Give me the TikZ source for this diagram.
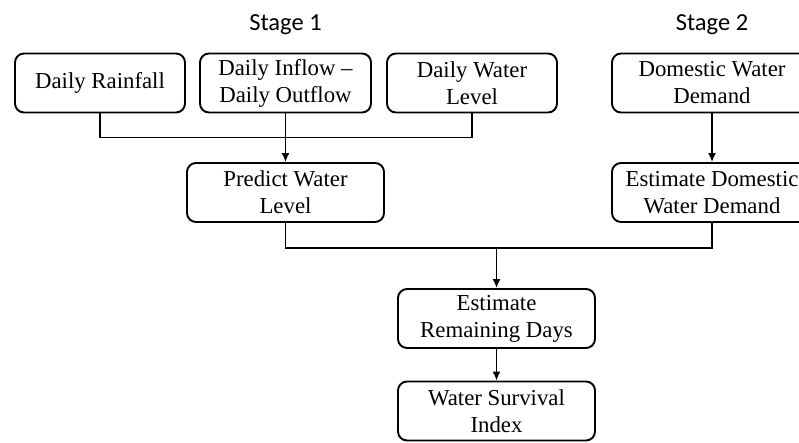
\documentclass[tikz,border=0pt]{standalone}
\usepackage{fontspec}
\setmainfont{Liberation Serif}
\newfontfamily\stagefont{Carlito}
\usetikzlibrary{arrows.meta}

\begin{document}
\begin{tikzpicture}[x=1pt, y=-1pt,
    box/.style={rectangle, rounded corners=9pt, draw=black, line width=1.9pt,
        minimum height=59pt, inner sep=0pt, align=center,
        font=\fontsize{22.8}{27}\selectfont},
    label/.style={font=\stagefont\fontsize{24.5}{28}\selectfont},
    edge/.style={line width=1.7pt, -},
    arrow/.style={line width=1.7pt, -{Latex[length=9pt, width=8pt]}}
]
    \useasboundingbox (0,0) rectangle (799,442);
    \node[label] (s1) at (285.5,25) {Stage 1};
    \node[label] (s2) at (712,25) {Stage 2};
    \node[box, minimum width=170pt] (rain) at (100,83) {Daily Rainfall};
    \node[box, minimum width=171pt] (inflow) at (285.5,83) {Daily Inflow --\\Daily Outflow};
    \node[box, minimum width=170pt] (level) at (472,83) {Daily Water\\Level};
    \node[box, minimum width=200pt] (demand) at (712,83) {Domestic Water\\Demand};
    \node[box, minimum width=197pt] (predict) at (285.5,192.5) {Predict Water\\Level};
    \node[box, minimum width=200pt] (estdemand) at (712,192.5) {Estimate Domestic\\Water Demand};
    \node[box, minimum width=197pt] (remain) at (496.5,318.5) {Estimate\\Remaining Days};
    \node[box, minimum width=197pt] (wsi) at (496.5,411) {Water Survival\\Index};
    \coordinate (join) at (496.5,247);
    \draw[edge] (rain.south) -- ++(0,24) -| (level.south);
    \draw[arrow] (inflow.south) -- (predict.north);
    \draw[arrow] (demand.south) -- (estdemand.north);
    \draw[edge] (predict.south) -- ++(0,25) -| (estdemand.south);
    \draw[arrow] (join) -- (remain.north);
    \draw[arrow] (remain.south) -- (wsi.north);
\end{tikzpicture}
\end{document}
